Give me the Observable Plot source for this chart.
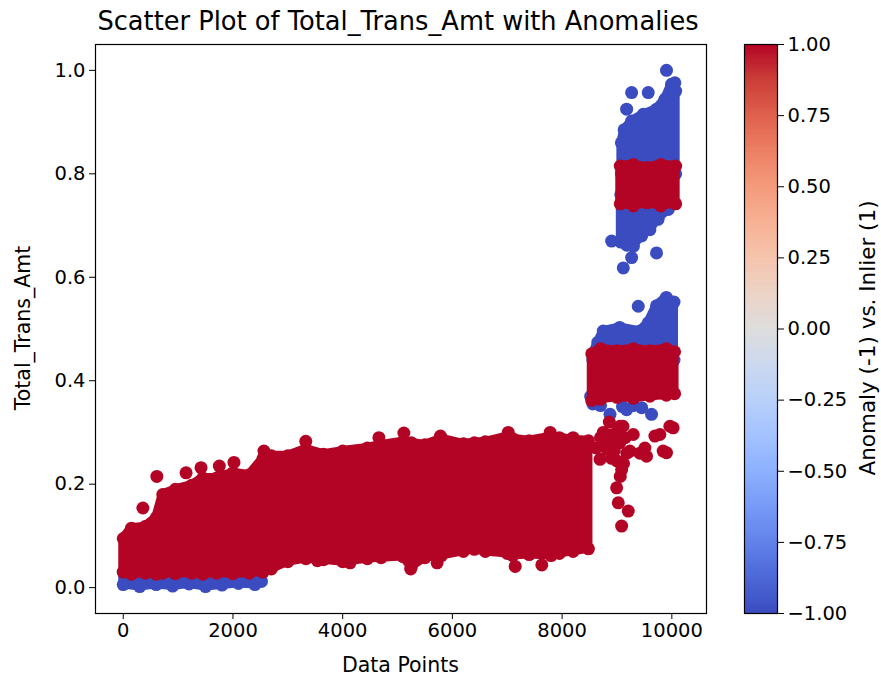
<!DOCTYPE html>
<html><head><meta charset="utf-8">
<script src="https://cdn.jsdelivr.net/npm/d3@7"></script>
<script src="https://cdn.jsdelivr.net/npm/@observablehq/plot@0.6"></script>
<style>
body{margin:0;background:#fff;}
#wrap{position:relative;width:881px;height:680px;font-family:"DejaVu Sans",sans-serif;color:#000;background:#fff;overflow:hidden;}
#wrap svg{position:absolute;top:0;}
.lbl{position:absolute;white-space:nowrap;transform:translate(-50%,-50%);line-height:1;}
</style></head><body><div id="wrap"></div>
<script>
// ---- tick labels ----
const xTicks = [0, 2000, 4000, 6000, 8000, 10000];
const yTicks = [0.0, 0.2, 0.4, 0.6, 0.8, 1.0];
const cbTicks = [-1, -0.75, -0.5, -0.25, 0, 0.25, 0.5, 0.75, 1];

// ---- labels (anomaly = -1, inlier = 1) ----
const anomalyLabel = -1;
const inlierLabel = 1;

// ---- dense inlier band, x < 8500 (dot-centre envelope) ----
const mainX  = [0,150,400,600,720,950,1250,1450,1700,2000,2300,2550,2700,3000,3330,3650,4000,4450,4700,5100,5250,5500,5800,6200,6400,6600,7000,7100,7400,7800,7950,8200,8480];
const mainLo = [0.03,0.026,0.028,0.026,0.028,0.027,0.028,0.026,0.028,0.027,0.028,0.03,0.036,0.05,0.056,0.054,0.05,0.056,0.058,0.06,0.04,0.058,0.062,0.07,0.074,0.07,0.066,0.062,0.064,0.062,0.066,0.07,0.075];
const mainHi = [0.095,0.115,0.118,0.135,0.18,0.19,0.198,0.212,0.212,0.222,0.218,0.25,0.255,0.255,0.268,0.258,0.264,0.27,0.276,0.282,0.28,0.276,0.288,0.278,0.28,0.282,0.292,0.288,0.284,0.292,0.29,0.286,0.284];

// ---- anomaly strip under the first band ----
const lowBlueX  = [0,300,600,900,1200,1500,1800,2100,2400,2520];
const lowBlueLo = [0.006,0.002,0.006,0.003,0.007,0.002,0.005,0.008,0.006,0.012];
const lowBlueHi = [0.03,0.03,0.03,0.03,0.03,0.03,0.03,0.03,0.03,0.03];

// ---- second cluster (~0.4) ----
const c2RedX  = [8540,8700,9000,9300,9600,9900,10050];
const c2RedLo = [0.362,0.364,0.368,0.366,0.37,0.372,0.375];
const c2RedHi = [0.452,0.462,0.458,0.462,0.458,0.462,0.456];
const c2BlueX  = [8560,8650,8750,9050,9420,9570,9720,9900,10040];
const c2BlueLo = [0.44,0.44,0.44,0.44,0.44,0.44,0.44,0.44,0.44];
const c2BlueHi = [0.452,0.474,0.496,0.503,0.496,0.512,0.545,0.561,0.552];

// ---- third cluster (~0.78) ----
const c3RedX  = [9060,9300,9550,9800,10070];
const c3RedLo = [0.742,0.738,0.744,0.738,0.742];
const c3RedHi = [0.815,0.818,0.812,0.818,0.815];
const c3UpX  = [9080,9130,9267,9479,9721,9873,9994,10070];
const c3UpLo = [0.8,0.8,0.8,0.8,0.8,0.8,0.8,0.8];
const c3UpHi = [0.86,0.885,0.902,0.915,0.925,0.944,0.973,0.96];
const c3LowX  = [9070,9180,9300,9450,9600,9750,9936];
const c3LowLo = [0.668,0.662,0.66,0.68,0.692,0.712,0.731];
const c3LowHi = [0.76,0.76,0.76,0.76,0.76,0.76,0.76];

// ---- isolated anomalies ----
const blueOutX = [9903,10055,9267,9570,9176,8903,9115,9721,9267,9388,8520,8560,8700,8873,9100,9176,9300,9450,9630];
const blueOutY = [1.0,0.976,0.957,0.957,0.925,0.67,0.618,0.647,0.638,0.544,0.37,0.355,0.352,0.335,0.35,0.344,0.352,0.348,0.335];

// ---- isolated inliers ----
const redOutX = [358,612,1145,1418,1751,2018,2564,3327,4660,5115,5782,7018,7782,8200,5240,5721,7145,7630,3540,4135,8691,8818,8933,9085,8994,9024,9206,9085,9297,9236,9509,9691,9539,9842,10024,9903,9109,9964,9782,9418,9055,8750,8860,8990,8620,8700,8780,8860,8950,9000,9050,9150,9180,8900,9060,9120];
const redOutY = [0.154,0.215,0.222,0.232,0.235,0.242,0.264,0.283,0.29,0.299,0.293,0.30,0.30,0.29,0.036,0.048,0.041,0.044,0.052,0.048,0.248,0.267,0.286,0.228,0.193,0.164,0.148,0.119,0.296,0.264,0.27,0.293,0.254,0.264,0.309,0.261,0.312,0.312,0.296,0.26,0.312,0.3,0.32,0.3,0.27,0.29,0.28,0.295,0.265,0.245,0.28,0.29,0.26,0.25,0.215,0.24];

// ---- coolwarm colormap stops ----
const cwStops = [-1,-0.875,-0.75,-0.625,-0.5,-0.375,-0.25,-0.125,0,0.125,0.25,0.375,0.5,0.625,0.75,0.875,1];
const cwColors = ["rgb(59,76,192)","rgb(77,104,215)","rgb(98,130,234)","rgb(119,154,247)","rgb(141,176,254)","rgb(163,194,255)","rgb(184,208,249)","rgb(204,217,238)","rgb(221,221,221)","rgb(236,211,197)","rgb(245,196,173)","rgb(247,177,148)","rgb(244,154,123)","rgb(236,127,99)","rgb(222,96,77)","rgb(203,62,56)","rgb(180,4,38)"];

const cw = d3.scaleLinear().domain(cwStops).range(cwColors).interpolate(d3.interpolateRgb);
const BLUE = cw(anomalyLabel), RED = cw(inlierLabel);
const R = 6.5;

const band = (xs, lo, hi) => xs.map((x, i) => ({x, lo: lo[i], hi: hi[i]}));
const edges = (xs, lo, hi) => xs.flatMap((x, i) => [{x, y: lo[i]}, {x, y: hi[i]}]);
const pts = (xs, ys) => xs.map((x, i) => ({x, y: ys[i]}));
const bandMarks = (xs, lo, hi, c) => [
  Plot.areaY(band(xs, lo, hi), {x: "x", y1: "lo", y2: "hi", fill: c, stroke: c, strokeWidth: 9, strokeLinejoin: "round", curve: "linear"}),
  Plot.dot(edges(xs, lo, hi), {x: "x", y: "y", r: R, fill: c})
];

const wrap = document.getElementById("wrap");

const main = Plot.plot({
  width: 730, height: 680,
  marginLeft: 95, marginRight: 24, marginTop: 44, marginBottom: 67,
  style: {fontFamily: "DejaVu Sans", fontSize: "19.5px", background: "transparent", color: "black"},
  x: {domain: [-506, 10632], ticks: xTicks, tickFormat: "d", label: null, tickSize: 6, tickPadding: 4},
  y: {domain: [-0.05, 1.05], ticks: yTicks, tickFormat: ".1f", label: null, tickSize: 6, tickPadding: 4},
  marks: [
    ...bandMarks(lowBlueX, lowBlueLo, lowBlueHi, BLUE),
    ...bandMarks(c2BlueX, c2BlueLo, c2BlueHi, BLUE),
    ...bandMarks(c3UpX, c3UpLo, c3UpHi, BLUE),
    ...bandMarks(c3LowX, c3LowLo, c3LowHi, BLUE),
    Plot.dot(pts(blueOutX, blueOutY), {x: "x", y: "y", r: R, fill: BLUE}),
    ...bandMarks(mainX, mainLo, mainHi, RED),
    ...bandMarks(c2RedX, c2RedLo, c2RedHi, RED),
    ...bandMarks(c3RedX, c3RedLo, c3RedHi, RED),
    Plot.dot(pts(redOutX, redOutY), {x: "x", y: "y", r: R, fill: RED}),
    Plot.frame({stroke: "black", strokeWidth: 1.2})
  ]
});
main.style.left = "0px";
wrap.appendChild(main);

// ---- colorbar ----
const N = 200;
const slices = d3.range(N).map(i => {
  const a = -1 + 2 * i / N, b = -1 + 2 * (i + 1) / N;
  return {x1: 0, x2: 1, a, b: Math.min(1, b + 0.006), c: cw((a + b) / 2)};
});
const cbar = Plot.plot({
  width: 161, height: 680,
  marginLeft: 24, marginRight: 104, marginTop: 44, marginBottom: 67,
  style: {fontFamily: "DejaVu Sans", fontSize: "19.5px", background: "transparent", color: "black"},
  x: {domain: [0, 1], axis: null},
  y: {domain: [-1, 1], axis: "right", ticks: cbTicks, tickFormat: ".2f", label: null, tickSize: 6, tickPadding: 4},
  marks: [
    Plot.rect(slices, {x1: "x1", x2: "x2", y1: "a", y2: "b", fill: "c", shapeRendering: "crispEdges"}),
    Plot.frame({stroke: "black", strokeWidth: 1.2})
  ]
});
cbar.style.left = "720px";
wrap.appendChild(cbar);

// ---- text ----
function addLabel(text, x, y, size, rot) {
  const d = document.createElement("div");
  d.className = "lbl";
  d.textContent = text;
  d.style.left = x + "px";
  d.style.top = y + "px";
  d.style.fontSize = size + "px";
  if (rot) d.style.transform = "translate(-50%,-50%) rotate(" + rot + "deg)";
  wrap.appendChild(d);
}
addLabel("Scatter Plot of Total_Trans_Amt with Anomalies", 398, 22, 25.7);
addLabel("Data Points", 400.5, 665, 20.5);
addLabel("Total_Trans_Amt", 23, 328, 20.5, -90);
addLabel("Anomaly (-1) vs. Inlier (1)", 868, 338, 21.5, -90);
</script></body></html>
